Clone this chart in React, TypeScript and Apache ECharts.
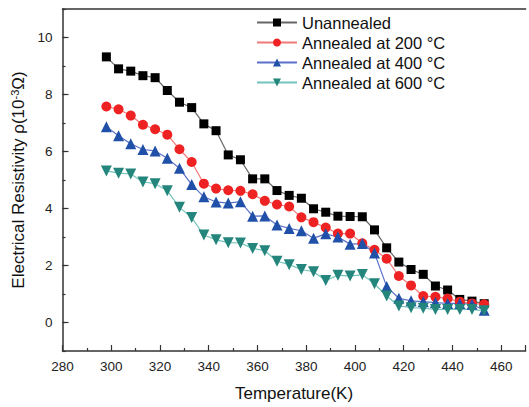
import React, { useEffect, useRef } from "react";
import * as echarts from "echarts";

const temperatures = [
  298, 303, 308, 313, 318, 323, 328, 333, 338, 343, 348, 353, 358, 363, 368, 373,
  378, 383, 388, 393, 398, 403, 408, 413, 418, 423, 428, 433, 438, 443, 448, 453,
];

const unannealed = [
  9.32, 8.9, 8.82, 8.66, 8.59, 8.14, 7.73, 7.54, 6.97, 6.73, 5.88, 5.71, 5.04, 5.04, 4.63, 4.46,
  4.36, 3.99, 3.87, 3.73, 3.72, 3.71, 3.25, 2.62, 2.12, 1.86, 1.69, 1.28, 1.14, 0.81, 0.75, 0.66,
];
const annealed200 = [
  7.58, 7.48, 7.26, 6.94, 6.78, 6.59, 6.08, 5.63, 4.87, 4.7, 4.64, 4.62, 4.5, 4.27, 4.14, 4.07,
  3.69, 3.52, 3.33, 3.12, 3.12, 2.78, 2.55, 2.24, 1.63, 1.3, 0.93, 0.9, 0.84, 0.73, 0.67, 0.64,
];
const annealed400 = [
  6.87, 6.55, 6.27, 6.07, 6.02, 5.76, 5.41, 4.84, 4.41, 4.23, 4.19, 4.24, 3.73, 3.74, 3.42, 3.3,
  3.22, 2.96, 3.11, 3.0, 2.75, 2.77, 2.44, 1.26, 0.85, 0.76, 0.73, 0.7, 0.67, 0.67, 0.64, 0.43,
];
const annealed600 = [
  5.32, 5.24, 5.21, 4.93, 4.87, 4.62, 4.04, 3.68, 3.07, 2.9, 2.8, 2.79, 2.6, 2.52, 2.15, 2.03,
  1.86, 1.78, 1.47, 1.66, 1.63, 1.68, 1.36, 0.93, 0.58, 0.52, 0.5, 0.46, 0.46, 0.46, 0.46, 0.41,
];

const seriesNames = [
  "Unannealed",
  "Annealed at 200 °C",
  "Annealed at 400 °C",
  "Annealed at 600 °C",
];

const xTickLabels = [280, 300, 320, 340, 360, 380, 400, 420, 440, 460];
const yMajorTicks = [0, 2, 4, 6, 8, 10];

const FONT = "'Liberation Sans', Arial, sans-serif";
const AXIS_COLOR = "#333";

function pairs(values: number[]) {
  return temperatures.map((t, i) => [t, values[i]]);
}

export default function App() {
  const ref = useRef<HTMLDivElement>(null);

  useEffect(() => {
    if (!ref.current) return;
    const chart = echarts.init(ref.current, undefined, { renderer: "svg" });

    const mkSeries = (
      name: string,
      values: number[],
      symbol: string,
      size: number,
      markerColor: string,
      lineColor: string,
      rotate = 0
    ) => ({
      name,
      type: "line",
      data: pairs(values),
      symbol,
      symbolSize: size,
      symbolRotate: rotate,
      showAllSymbol: true,
      itemStyle: { color: markerColor, borderWidth: 0 },
      lineStyle: { color: lineColor, width: 1.2 },
      emphasis: { disabled: true },
    });

    chart.setOption({
      animation: false,
      textStyle: { fontFamily: FONT },
      grid: { left: 62.5, right: 3.4, top: 9, bottom: 53 },
      legend: {
        orient: "vertical",
        left: 251,
        top: 9,
        itemWidth: 40,
        itemHeight: 10,
        itemGap: 3,
        textStyle: { fontSize: 16.5, color: "#111", fontFamily: FONT },
        data: seriesNames,
      },
      xAxis: [
        {
          type: "value",
          min: 280,
          max: 470,
          interval: 20,
          name: "Temperature(K)",
          nameLocation: "middle",
          nameGap: 34,
          nameTextStyle: { fontSize: 17, color: "#111", fontFamily: FONT },
          axisLine: { show: true, onZero: false, lineStyle: { color: AXIS_COLOR, width: 1.5 } },
          axisTick: { show: true, inside: true, length: 6, lineStyle: { color: AXIS_COLOR, width: 1.2 } },
          minorTick: { show: true, splitNumber: 2, length: 3, lineStyle: { color: AXIS_COLOR, width: 1.2 } },
          axisLabel: {
            fontSize: 13.5,
            color: "#222",
            margin: 8,
            fontFamily: FONT,
            formatter: (v: number) => (xTickLabels.indexOf(v) >= 0 ? String(v) : ""),
          },
          splitLine: { show: false },
        },
        {
          type: "value",
          position: "top",
          min: 280,
          max: 470,
          interval: 20,
          axisLine: { show: true, onZero: false, lineStyle: { color: AXIS_COLOR, width: 1.5 } },
          axisTick: { show: false },
          axisLabel: { show: false },
          splitLine: { show: false },
        },
      ],
      yAxis: [
        {
          type: "value",
          min: -1,
          max: 11,
          interval: 1,
          name: "{a|Electrical Resistivity }{b|ρ(10}{c|-3}{b|Ω)}",
          nameLocation: "middle",
          nameGap: 36,
          nameRotate: 90,
          nameTextStyle: {
            color: "#111",
            fontFamily: FONT,
            rich: {
              a: { fontSize: 17, color: "#111", fontFamily: FONT },
              b: { fontSize: 17, color: "#111", fontFamily: FONT },
              c: { fontSize: 11, color: "#111", fontFamily: FONT, verticalAlign: "top" },
            },
          },
          axisLine: { show: true, onZero: false, lineStyle: { color: AXIS_COLOR, width: 1.5 } },
          axisTick: { show: true, inside: true, length: 3, lineStyle: { color: AXIS_COLOR, width: 1.2 } },
          axisLabel: {
            fontSize: 13.5,
            color: "#222",
            margin: 10,
            fontFamily: FONT,
            formatter: (v: number) => (yMajorTicks.indexOf(v) >= 0 ? String(v) : ""),
          },
          splitLine: { show: false },
        },
        {
          type: "value",
          position: "left",
          min: -1,
          max: 11,
          axisLine: { show: false },
          axisTick: {
            show: true,
            inside: true,
            length: 6,
            customValues: yMajorTicks,
            lineStyle: { color: AXIS_COLOR, width: 1.2 },
          },
          axisLabel: { show: false },
          splitLine: { show: false },
        },
      ],
      series: [
        mkSeries(seriesNames[0], unannealed, "rect", 9, "#000000", "#666666"),
        mkSeries(seriesNames[1], annealed200, "circle", 10, "#ee2222", "#f07878"),
        mkSeries(seriesNames[2], annealed400, "triangle", 11, "#2050a8", "#5a70c8"),
        mkSeries(seriesNames[3], annealed600, "triangle", 11, "#23857c", "#72c4bb", 180),
      ],
    });

    return () => chart.dispose();
  }, []);

  return (
    <div
      ref={ref}
      style={{ position: "fixed", left: 0, top: 0, width: 529, height: 407, background: "#fff" }}
    />
  );
}
